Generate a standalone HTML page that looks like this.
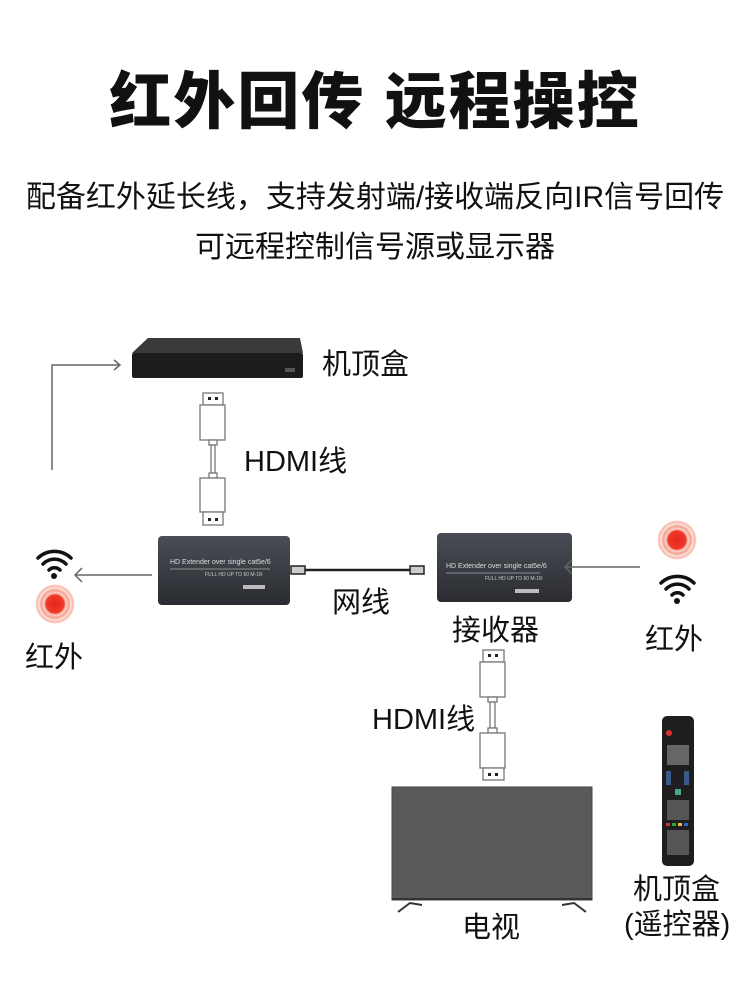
<!DOCTYPE html>
<html><head><meta charset="utf-8"><style>
body{margin:0;width:750px;height:1000px;background:#fff;overflow:hidden;font-family:"Liberation Sans","Noto Sans CJK SC",sans-serif;}
.t{position:absolute;white-space:nowrap;color:#111;line-height:42px;font-size:29px;}
</style></head><body>
<div class="t" style="left:0;width:750px;text-align:center;top:63px;font-size:62px;line-height:80px;font-weight:900;letter-spacing:2px;">红外回传 远程操控</div>
<div class="t" style="left:0;width:750px;text-align:center;top:177px;font-size:30px;">配备红外延长线，支持发射端/接收端反向IR信号回传</div>
<div class="t" style="left:0;width:750px;text-align:center;top:227px;font-size:30px;">可远程控制信号源或显示器</div>
<svg width="750" height="1000" style="position:absolute;left:0;top:0" xmlns="http://www.w3.org/2000/svg">
<defs>
<radialGradient id="rg"><stop offset="0" stop-color="#e8251c"/><stop offset="0.45" stop-color="#ee3a2a"/><stop offset="0.55" stop-color="#fbd3c8"/><stop offset="0.7" stop-color="#f5a090"/><stop offset="0.8" stop-color="#fde5de"/><stop offset="0.9" stop-color="#f8b5a6"/><stop offset="1" stop-color="#fff"/></radialGradient>
<linearGradient id="bx" x1="0" y1="0" x2="0" y2="1"><stop offset="0" stop-color="#4a4d55"/><stop offset="1" stop-color="#2a2c31"/></linearGradient>
</defs>
<polygon points="148,338 300,338 303,353 132,353" fill="#3a3a3c"/>
<rect x="132" y="353" width="171" height="25" rx="2" fill="#1c1c1e"/>
<rect x="285" y="368" width="10" height="4" fill="#555"/>
<polyline points="52,470 52,365 120,365" fill="none" stroke="#666" stroke-width="1.5"/>
<polyline points="114,360 120,365 114,370" fill="none" stroke="#666" stroke-width="1.5"/>
<g fill="#fff" stroke="#777" stroke-width="1.3">
<rect x="203" y="393" width="20" height="12"/><rect x="200" y="405" width="25" height="35"/><rect x="209" y="440" width="8" height="5"/>
<rect x="211" y="445" width="4" height="28"/><rect x="209" y="473" width="8" height="5"/><rect x="200" y="478" width="25" height="34"/><rect x="203" y="512" width="20" height="13"/>
<rect x="483" y="650" width="21" height="12"/><rect x="480" y="662" width="25" height="35"/><rect x="488" y="697" width="9" height="5"/>
<rect x="490" y="702" width="5" height="26"/><rect x="488" y="728" width="9" height="5"/><rect x="480" y="733" width="25" height="35"/><rect x="483" y="768" width="21" height="12"/>
</g>
<g fill="#222"><rect x="208" y="397" width="3" height="3"/><rect x="215" y="397" width="3" height="3"/><rect x="208" y="518" width="3" height="3"/><rect x="215" y="518" width="3" height="3"/>
<rect x="488" y="654" width="3" height="3"/><rect x="495" y="654" width="3" height="3"/><rect x="488" y="773" width="3" height="3"/><rect x="495" y="773" width="3" height="3"/></g>
<rect x="158" y="536" width="132" height="69" rx="4" fill="url(#bx)"/>
<text x="170" y="564" font-size="7" fill="#ddd" font-family="Liberation Sans">HD  Extender over single cat5e/6</text>
<line x1="170" y1="569" x2="270" y2="569" stroke="#aaa" stroke-width="0.7"/>
<text x="205" y="576" font-size="5" fill="#ccc" font-family="Liberation Sans">FULL HD UP TO 60 M-1R</text>
<rect x="243" y="585" width="22" height="4" fill="#bbb"/>
<rect x="437" y="533" width="135" height="69" rx="4" fill="url(#bx)"/>
<text x="446" y="568" font-size="7" fill="#ddd" font-family="Liberation Sans">HD  Extender over single cat5e/6</text>
<line x1="446" y1="573" x2="540" y2="573" stroke="#aaa" stroke-width="0.7"/>
<text x="485" y="580" font-size="5" fill="#ccc" font-family="Liberation Sans">FULL HD UP TO 60 M-1R</text>
<rect x="515" y="589" width="24" height="4" fill="#bbb"/>
<line x1="305" y1="570" x2="410" y2="570" stroke="#222" stroke-width="2.5"/>
<rect x="291" y="566" width="14" height="8" fill="#ccc" stroke="#222" stroke-width="1.5"/>
<rect x="410" y="566" width="14" height="8" fill="#ccc" stroke="#222" stroke-width="1.5"/>
<line x1="152" y1="575" x2="75" y2="575" stroke="#666" stroke-width="1.5"/>
<polyline points="82,568 75,575 82,582" fill="none" stroke="#666" stroke-width="1.5"/>
<line x1="640" y1="567" x2="565" y2="567" stroke="#666" stroke-width="1.5"/>
<polyline points="572,560 565,567 572,574" fill="none" stroke="#666" stroke-width="1.5"/>
<g fill="none" stroke="#111" stroke-width="3.5" stroke-linecap="round">
<path d="M38,558 A24,24 0 0 1 71,558"/><path d="M43,564 A16,16 0 0 1 66,564"/><path d="M49,570 A8,8 0 0 1 60,570"/>
<path d="M661,583 A24,24 0 0 1 694,583"/><path d="M666,589 A16,16 0 0 1 689,589"/><path d="M672,595 A8,8 0 0 1 683,595"/>
</g>
<circle cx="54" cy="576" r="3" fill="#111"/><circle cx="677" cy="601" r="3" fill="#111"/>
<circle cx="55" cy="604" r="20" fill="url(#rg)"/>
<circle cx="677" cy="540" r="20" fill="url(#rg)"/>
<rect x="392" y="787" width="200" height="113" fill="#5a5a5a" stroke="#444" stroke-width="1"/>
<line x1="392" y1="899" x2="592" y2="899" stroke="#333" stroke-width="2"/>
<polyline points="398,912 410,903 422,905" fill="none" stroke="#333" stroke-width="2"/>
<polyline points="586,912 574,903 562,905" fill="none" stroke="#333" stroke-width="2"/>
<rect x="662" y="716" width="32" height="150" rx="5" fill="#1e1e20"/>
<circle cx="669" cy="733" r="3" fill="#d33"/>
<g fill="#666"><rect x="667" y="745" width="22" height="20"/></g>
<rect x="666" y="771" width="5" height="14" fill="#3a5a8a"/><rect x="684" y="771" width="5" height="14" fill="#3a5a8a"/>
<rect x="675" y="789" width="6" height="6" fill="#4a8"/>
<g fill="#555"><rect x="667" y="800" width="22" height="20"/><rect x="667" y="830" width="22" height="25"/></g>
<rect x="666" y="823" width="4" height="3" fill="#c33"/><rect x="672" y="823" width="4" height="3" fill="#3a3"/><rect x="678" y="823" width="4" height="3" fill="#eb3"/><rect x="684" y="823" width="4" height="3" fill="#36c"/>
</svg>
<div class="t" style="left:322px;top:344px;">机顶盒</div>
<div class="t" style="left:244px;top:441px;">HDMI线</div>
<div class="t" style="left:332px;top:582px;">网线</div>
<div class="t" style="left:452px;top:610px;">接收器</div>
<div class="t" style="left:25px;top:637px;">红外</div>
<div class="t" style="left:645px;top:619px;">红外</div>
<div class="t" style="left:372px;top:699px;">HDMI线</div>
<div class="t" style="left:462px;top:907px;">电视</div>
<div class="t" style="left:633px;top:869px;">机顶盒</div>
<div class="t" style="left:624px;top:904px;">(遥控器)</div>
</body></html>
